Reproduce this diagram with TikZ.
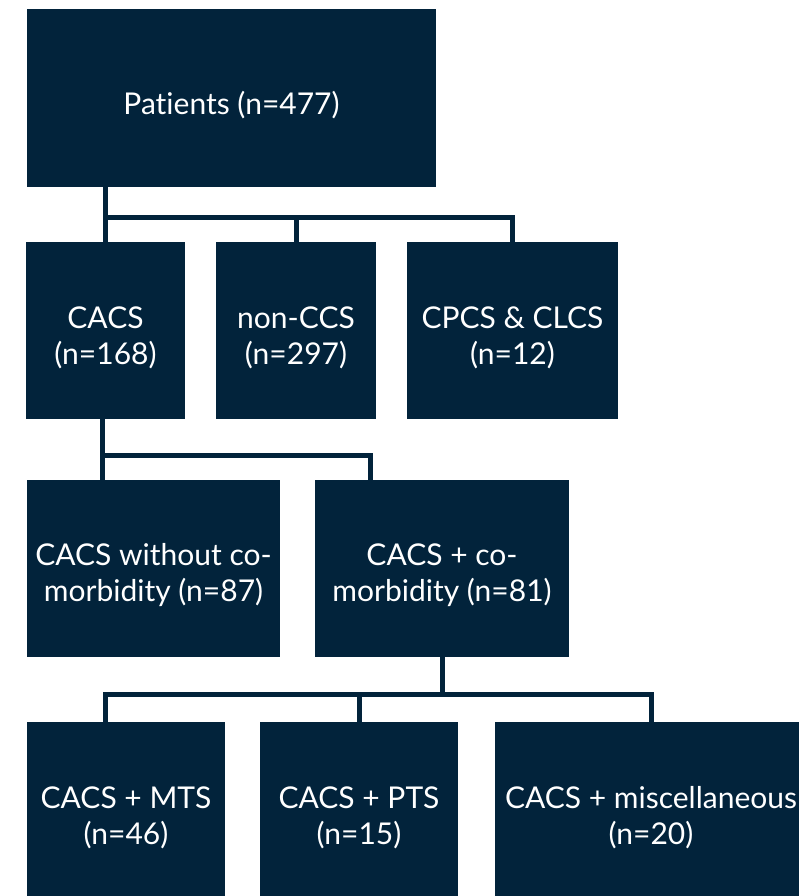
\documentclass[tikz,border=0pt]{standalone}
\usepackage{fontspec}
\setmainfont[Ligatures=NoCommon]{Lato}
\usepackage{tikz}
\definecolor{navy}{RGB}{2,35,59}

\begin{document}
\begin{tikzpicture}[x=1pt, y=-1pt,
	box/.style={fill=navy, inner sep=0pt, minimum height=177pt},
	txt/.style={text=white, align=center, yshift=-7pt, font=\fontsize{30}{36}\selectfont},
	link/.style={draw=navy, line width=5pt, line join=miter}]
	\useasboundingbox (0,0) rectangle (799,896);
	\clip (0,0) rectangle (799,896);

	\node [box, minimum width=409pt, minimum height=178pt, label={[txt]center:Patients (n=477)}] (pat) at (231.5,98) {};

	\node [box, minimum width=159pt, label={[txt]center:CACS\\(n=168)}] (cacs) at (105.5,330.5) {};
	\node [box, minimum width=160pt, label={[txt]center:non-CCS\\(n=297)}] (noncs) at (296,330.5) {};
	\node [box, minimum width=211pt, label={[txt]center:CPCS \& CLCS\\(n=12)}] (cpcs) at (512.5,330.5) {};

	\node [box, minimum width=253pt, label={[txt]center:CACS without co-\\morbidity (n=87)}] (wo) at (153.5,568.5) {};
	\node [box, minimum width=254pt, label={[txt]center:CACS + co-\\morbidity (n=81)}] (co) at (442,568.5) {};

	\node [box, minimum width=198pt, label={[txt]center:CACS + MTS\\(n=46)}] (mts) at (126,810.5) {};
	\node [box, minimum width=198pt, label={[txt]center:CACS + PTS\\(n=15)}] (pts) at (359,810.5) {};
	\node [box, minimum width=312pt, label={[txt]center:CACS + miscellaneous\\(n=20)}] (misc) at (651,810.5) {};

	\coordinate (j1) at (105,217);
	\coordinate (j2) at (102,455);
	\coordinate (j3) at (442,694);

	\draw [link] (pat.south -| j1) -- (cacs.north -| j1);
	\draw [link] (j1) -| (cpcs.north);
	\draw [link] (noncs.north) -- (noncs.north |- j1);

	\draw [link] (cacs.south -| j2) -- (wo.north -| j2);
	\draw [link] (j2) -| (co.north -| 370,0);

	\draw [link] (co.south) -- (j3);
	\draw [link] (mts.north -| 105,0) |- (j3) -| (misc.north);
	\draw [link] (pts.north) -- (pts.north |- j3);
\end{tikzpicture}
\end{document}
